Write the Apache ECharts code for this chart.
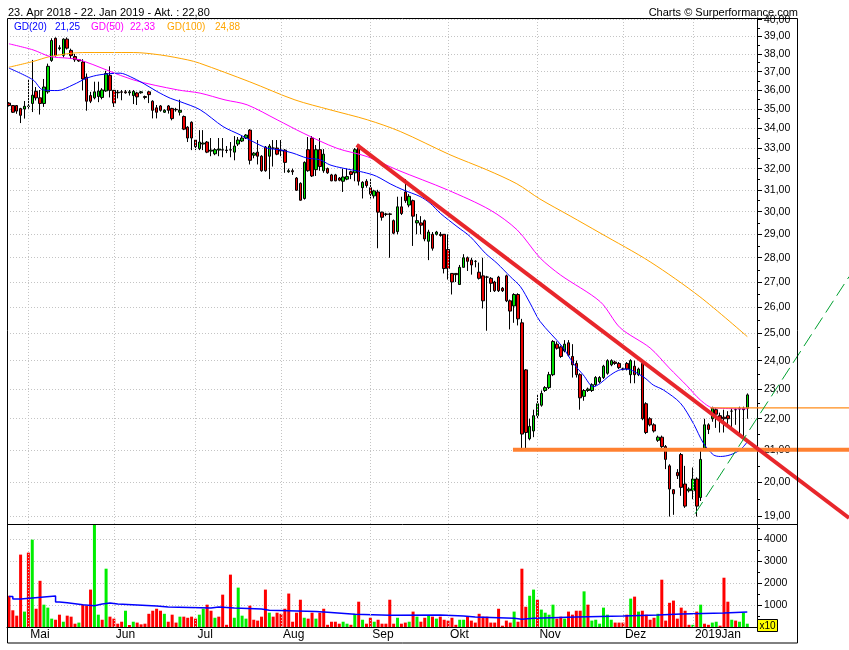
<!DOCTYPE html>
<html><head><meta charset="utf-8">
<script src="https://cdn.jsdelivr.net/npm/echarts@6/dist/echarts.min.js"></script>
<style>html,body{margin:0;padding:0;background:#fff}#c{width:849px;height:650px}</style>
</head><body><div id="c"></div>
<script>
// ---------- DATA ----------
const titleText = '23. Apr 2018 - 22. Jan 2019 - Akt. : 22,80';
const creditText = 'Charts \u00A9 Surperformance.com';
const startDate = '2018-04-24', endDate = '2019-01-22';
const closedDays = ['2018-05-01','2018-12-24','2018-12-25','2018-12-26','2019-01-01'];
const padDays = ['2019-01-23','2019-01-24'];
const monthLabels = ['Mai','Jun','Jul','Aug','Sep','Okt','Nov','Dez','2019Jan'];
const monthStarts = [5,27,48,70,93,113,136,158,176];
const priceTicks = [19,20,21,22,23,24,25,26,27,28,29,30,31,32,33,34,35,36,37,38,39,40];
const volTicks = [1000,2000,3000,4000];
const volMinorTicks = [500,1500,2500,3500,4500];

const openP = [35.30,35.17,35.17,35.01,34.99,35.12,35.28,35.93,35.58,35.28,
35.90,37.63,38.90,38.30,37.92,38.85,38.20,37.85,37.67,37.54,
36.70,35.70,35.58,35.65,35.60,35.95,36.80,35.98,35.85,35.90,
35.90,35.85,35.70,35.84,35.85,35.65,35.90,35.40,35.05,35.15,
34.82,35.15,35.02,34.97,34.82,34.60,34.05,34.30,33.40,32.97,
33.20,33.30,32.85,32.72,32.90,32.90,32.90,32.92,32.80,33.20,
33.35,33.50,33.90,32.65,32.80,32.60,33.05,32.60,33.00,33.00,
32.90,32.90,31.85,31.90,31.55,31.30,30.60,32.92,33.50,31.95,
32.92,31.90,32.00,31.70,31.70,31.55,31.40,31.50,31.85,31.80,
33.15,31.10,31.40,31.10,30.72,30.90,29.98,29.90,29.90,29.60,
29.12,30.22,30.90,30.30,30.50,29.50,29.50,29.60,28.70,29.00,
29.00,29.00,29.00,28.35,27.35,27.35,26.90,27.60,28.00,27.90,
27.85,27.40,27.25,27.20,27.15,27.00,27.20,26.75,27.25,26.25,
26.05,26.50,25.40,23.67,21.35,21.60,22.10,22.45,22.95,23.05,
23.50,24.60,24.50,24.35,24.65,24.15,23.90,23.50,22.75,22.95,
22.95,23.15,23.25,23.40,23.55,23.85,23.95,23.90,23.70,23.90,
23.50,23.80,23.50,23.90,22.50,22.00,21.80,21.30,21.40,21.10,
20.50,19.78,20.30,20.85,19.95,19.75,19.75,20.10,19.55,21.05,
21.80,22.00,22.30,22.10,22.05,22.10,22.25,22.30,22.35,22.35,
22.35];
const closeP = [35.17,34.82,34.88,34.66,35.13,35.15,35.72,35.58,35.28,36.16,
37.30,38.77,37.90,38.35,38.85,38.33,37.90,37.67,37.60,36.60,
35.40,35.40,35.90,35.94,36.00,36.90,35.98,35.30,35.88,35.88,
35.85,35.90,35.93,35.63,35.90,35.60,35.75,34.92,34.82,34.92,
34.92,34.92,34.49,34.95,34.92,33.95,33.50,33.50,33.07,33.30,
33.25,32.80,32.90,32.92,32.95,32.92,32.88,32.90,33.10,33.40,
33.50,33.65,32.40,32.75,32.60,31.90,31.90,33.10,33.00,32.70,
32.85,32.30,31.90,31.85,30.98,30.52,32.30,31.90,31.65,32.92,
32.10,32.70,31.80,31.42,31.42,31.45,31.60,31.62,31.72,32.92,
31.40,31.35,31.20,30.80,30.95,29.98,29.75,29.88,29.88,29.05,
30.22,29.92,30.50,30.70,29.80,29.60,29.40,28.80,29.10,28.40,
29.10,28.95,27.55,27.55,27.00,27.30,27.60,28.00,27.85,27.70,
27.85,27.15,26.25,27.20,26.95,26.65,26.65,26.65,26.25,25.85,
26.50,25.55,21.50,21.55,21.75,22.10,22.50,22.85,23.05,23.50,
24.70,24.45,24.15,24.60,24.20,23.85,23.50,22.70,22.95,23.00,
23.15,23.40,23.40,23.80,24.00,24.00,23.90,23.75,23.70,23.70,
24.00,23.50,23.70,22.00,21.55,21.80,21.60,21.40,21.10,20.70,
19.80,19.66,20.20,19.85,19.30,19.80,20.10,19.30,20.70,21.80,
21.65,22.35,22.15,22.00,22.00,22.00,22.25,22.30,22.32,22.30,
22.80];
const lowP = [35.12,34.78,34.74,34.26,34.49,35.00,34.83,35.44,34.70,35.10,
35.80,37.55,37.85,38.20,37.80,38.25,37.72,37.55,37.55,35.98,
34.90,35.30,35.50,35.35,35.50,35.90,35.60,35.10,35.55,35.45,
35.80,35.70,35.25,35.20,35.80,35.50,35.30,34.50,34.50,34.85,
34.78,34.75,34.40,34.85,34.65,33.90,33.30,32.90,32.90,32.90,
32.90,32.75,32.60,32.65,32.60,32.55,32.75,32.55,32.40,33.10,
33.30,33.45,32.20,32.50,32.20,31.85,31.85,31.50,32.10,32.65,
32.60,31.80,31.80,31.70,30.95,30.50,30.55,31.85,31.60,31.65,
31.90,31.80,31.75,31.40,31.40,31.40,30.90,31.45,31.50,31.40,
31.20,30.60,31.10,30.60,30.60,28.40,29.60,29.80,28.00,29.00,
29.00,29.85,30.40,30.20,28.50,29.00,29.00,28.70,27.90,28.30,
28.95,28.90,27.35,27.10,26.50,27.00,26.90,27.60,27.45,27.30,
27.60,27.10,25.95,25.10,26.60,26.60,26.60,26.60,26.20,25.15,
25.40,25.30,21.05,21.00,21.30,21.40,22.00,22.40,22.90,23.00,
23.45,24.40,24.10,24.30,24.15,23.40,23.40,22.30,22.60,22.90,
22.90,23.10,23.20,23.35,23.50,23.80,23.85,23.70,23.65,23.65,
23.20,23.20,23.45,21.95,21.50,21.75,21.55,21.25,21.00,20.40,
19.00,19.05,20.10,19.60,19.25,19.70,19.50,19.00,19.45,21.00,
21.50,21.90,21.70,21.55,21.55,21.75,21.70,21.80,21.50,21.40,
22.00];
const highP = [35.35,35.20,35.20,35.05,35.41,36.60,37.66,36.16,36.00,36.60,
37.45,38.90,38.95,38.50,38.90,38.95,38.30,38.00,37.70,37.70,
36.90,35.90,36.45,36.45,36.10,37.05,37.30,36.00,36.00,36.00,
36.00,36.00,36.00,35.90,35.95,35.70,35.95,35.45,35.20,35.20,
34.98,35.20,35.05,35.05,35.48,34.65,34.10,34.35,33.45,33.90,
33.90,33.35,33.50,33.00,33.50,33.50,33.10,33.30,33.60,33.55,
33.60,33.70,33.95,32.80,33.40,32.65,33.10,33.20,33.40,33.40,
33.40,32.95,32.00,32.00,31.60,31.35,32.35,33.55,33.60,33.15,
33.50,32.95,32.05,31.75,31.75,31.60,32.00,32.00,31.90,33.00,
33.20,31.40,31.50,31.50,31.00,31.00,30.00,29.95,29.95,29.65,
30.68,30.68,31.50,30.80,30.55,29.90,29.80,29.65,29.20,29.10,
29.15,29.10,29.00,29.00,27.35,27.35,27.70,28.15,28.05,28.00,
27.90,27.80,28.00,27.25,27.20,27.05,27.25,26.80,27.30,26.30,
26.55,26.55,25.55,23.70,22.00,22.30,22.80,22.95,23.10,23.60,
24.75,24.70,24.55,24.75,24.75,24.60,24.00,23.55,23.00,23.05,
23.20,23.45,23.45,23.85,24.05,24.05,24.00,23.95,23.75,23.95,
24.05,24.00,23.75,23.95,22.55,22.05,21.85,21.45,21.45,21.15,
20.55,19.80,20.40,20.90,20.50,19.85,20.45,20.15,21.00,22.00,
21.85,22.40,22.35,22.20,22.30,22.25,22.35,22.35,22.40,22.40,
22.85];

const volume = [1420,760,515,3290,700,3380,3970,830,2100,1015,
880,380,330,560,240,515,470,150,200,1015,
970,1700,4700,560,330,2650,470,380,150,240,
740,90,240,200,120,150,600,740,830,740,
600,240,560,200,470,470,420,470,380,560,
830,1015,740,420,470,1470,100,2380,420,1790,
515,380,970,330,290,470,1700,650,470,650,
600,830,1520,240,650,1240,420,380,650,380,
650,830,100,240,240,150,240,150,100,600,
1150,330,150,420,240,330,150,150,1240,150,
420,150,200,240,700,470,240,420,515,470,
380,470,330,290,420,100,330,330,470,290,
200,600,470,470,200,200,830,60,290,200,
700,240,2650,920,1420,1700,1240,790,650,560,
1015,380,470,380,700,560,740,740,1620,1015,
290,330,150,880,560,330,200,200,200,560,
1290,1380,700,740,560,330,420,600,2150,290,
1100,1200,380,880,740,100,100,700,1015,150,
100,200,240,60,2240,1150,330,290,240,650,
150];
const volDir = 'rrrrgrgrrg'+'ggrrgrrrgr'+'rrggrgrrrr'+'grgrrrrrrr'+'grrrgrrrrg'+
  'grrgrrrrgg'+'ggrrrrrgrr'+'rrrrrrgrrg'+'rrrrrrggrg'+'rgrrgrrrrr'+
  'grrgrgrrgr'+'grrrrrggrr'+'rrrrrrrrrr'+'grrrggrggg'+'grrgrrrrgr'+
  'ggggggrrrr'+'grgrrrrgrr'+'rrrrrrgrgr'+'rggrrrgrggg';
const volMA = [[0,1390],[1,1270],[3,1320],[6,1410],[12,1140],[13,1100],[15,1060],[17,1015],[19,970],
  [22,1045],[24,1090],[26,1045],[28,1000],[33,955],[38,910],[41,865],[52,910],[54,865],[58,820],
  [65,760],[67,700],[79,665],[82,575],[89,530],[98,545],[111,500],[117,455],[120,395],[130,350],
  [132,395],[135,455],[146,500],[158,545],[167,590],[173,635],[184,680],[190,680]];

// moving averages: [day index, price]
const gd20 = [[0,37.20],[6.2,36.55],[8.7,36.01],[12.6,35.97],[16.5,36.28],[20.1,36.65],[23.4,36.83],
  [28.6,36.92],[31.2,36.73],[34.5,36.37],[38.1,35.92],[41.5,35.56],[44,35.38],[49.2,34.95],
  [55.1,34.08],[59.5,33.66],[62.8,33.32],[66.4,33.00],[69.8,32.91],[73.1,32.75],[76.7,32.51],
  [80,32.43],[82.6,32.18],[86,32.02],[90.4,31.86],[93.7,31.70],[95.5,31.55],[98.1,31.28],
  [101.4,31.00],[105.8,30.69],[108.4,30.38],[111,29.93],[115.3,29.34],[118.7,28.90],[122.6,28.19],
  [125.6,27.77],[129,27.22],[131.6,26.82],[134.1,26.16],[136.7,25.45],[142.4,24.51],[145.2,23.91],
  [147.8,23.49],[150.4,23.08],[152.2,23.20],[154.2,23.43],[156.8,23.65],[159.1,23.70],[161.7,23.55],
  [163.7,23.38],[165.8,23.14],[168.4,22.97],[172.8,22.52],[176.1,21.85],[178.7,21.21],[181.3,20.84],
  [183.1,20.79],[185.6,20.84],[188.2,21.00],[190,21.25]];
const gd50 = [[0,38.58],[6.2,38.23],[10.6,37.85],[15,37.76],[18.3,37.66],[32,36.55],[43.3,36.01],
  [49.2,35.83],[55.6,35.47],[61.3,35.21],[69,34.43],[75.7,33.75],[84.4,32.99],[92.2,32.58],
  [99.9,31.94],[112.8,31.00],[123.8,30.08],[130.8,29.19],[136.7,27.99],[141.9,27.29],[152.2,26.21],
  [157.3,25.21],[165,24.46],[169.9,23.74],[174.5,23.11],[177.9,22.63],[181.2,22.36],[190,22.33]];
const gd100 = [[0,37.25],[6.2,37.57],[10.6,37.85],[19,38.08],[32,38.08],[39,37.94],[46,37.66],
  [49,37.48],[62,36.44],[73.6,35.47],[82.6,34.95],[92.2,34.43],[100.7,33.83],[113.5,32.67],
  [123,31.94],[130.7,31.28],[136.6,30.58],[144.4,29.81],[152.1,29.06],[165,27.83],[177.8,26.41],
  [190,24.88]];
const legendItems = [['GD(20)','21,25','#0000ff'],['GD(50)','22,33','#ff00ff'],['GD(100)','24,88','#ffa500']];

// drawn trend lines: [day index, price]
const redTrend = [[89.5,33.16],[216.2,18.96]];
const supportLine = [[129.7,21.00],[216.2,21.00]];
const resistLine = [[180.4,22.36],[216.2,22.36]];
const greenTrend = [[176.55,19.08],[216.2,27.22]];

// ---------- BUILD ----------
function buildDays(){
  const out = [];
  const d = new Date(startDate + 'T00:00:00Z');
  const end = new Date(endDate + 'T00:00:00Z');
  while (d <= end){
    const s = d.toISOString().slice(0,10);
    const wd = d.getUTCDay();
    if (wd !== 0 && wd !== 6 && closedDays.indexOf(s) < 0) out.push(s);
    d.setUTCDate(d.getUTCDate()+1);
  }
  return out.concat(padDays);
}
const cats = buildDays();
const LN = Math.log;
const PMIN = LN(18.79), PMAX = LN(40.1);
const VMAX = 4636;
const FONT = 'Liberation Sans';
const GL = 7, GR_AXIS = 757, W = 849;
const band = (GR_AXIS - GL) / cats.length;
const overlayMax = -0.5 + (W - GL) / band;

const candles = openP.map((o,i)=>[LN(o), LN(closeP[i]), LN(lowP[i]), LN(highP[i])]);
const volData = volume.map((v,i)=>({value:v, itemStyle:{color: volDir[i]==='g' ? '#00ee00' : '#ff0000'}}));
const lnPts = arr => arr.map(p=>[p[0], LN(p[1])]);
const gridLineStyle = {color:'#c4c4c4', type:[1,2], width:1};
const monthMarks = monthStarts.map(i=>({xAxis: cats[i]}));
const labelByIdx = {}; monthStarts.forEach((i,k)=>labelByIdx[i]=monthLabels[k]);

const chart = echarts.init(document.getElementById('c'));
chart.setOption({
  animation:false,
  backgroundColor:'#fff',
  textStyle:{fontFamily:FONT},
  grid:[
    {left:GL, top:18, right:W-GR_AXIS, bottom:650-524, show:false},
    {left:GL, top:525, right:W-GR_AXIS, bottom:650-627, show:false},
    {left:GL, top:18, right:0, bottom:650-524, show:false}
  ],
  xAxis:[
    {type:'category', gridIndex:0, data:cats, boundaryGap:true,
     axisLine:{show:false}, axisTick:{show:false}, axisLabel:{show:false}, splitLine:{show:false}},
    {type:'category', gridIndex:1, data:cats, boundaryGap:true,
     axisLine:{show:true, lineStyle:{color:'#000'}}, axisTick:{show:false}, splitLine:{show:false},
     axisLabel:{show:true, interval:(idx)=>labelByIdx[idx]!==undefined, formatter:(v,idx)=>labelByIdx[idx]||'',
       align:'left', padding:[0,0,0,2], margin:2, fontSize:12, color:'#000', fontFamily:FONT}},
    {type:'value', gridIndex:2, min:-0.5, max:overlayMax, show:false}
  ],
  yAxis:[
    {type:'value', gridIndex:0, position:'right', min:PMIN, max:PMAX,
     axisLine:{show:true, lineStyle:{color:'#000'}},
     axisTick:{show:true, length:5, customValues:priceTicks.map(LN), lineStyle:{color:'#000'}},
     axisLabel:{show:true, customValues:priceTicks.map(LN), formatter:v=>Math.round(Math.exp(v))+',00',
       color:'#000', fontSize:10.5, fontFamily:FONT, margin:7},
     splitLine:{show:true, lineStyle:gridLineStyle}},
    {type:'value', gridIndex:0, position:'right', min:PMIN, max:PMAX,
     axisLine:{show:false}, axisLabel:{show:false}, splitLine:{show:false},
     axisTick:{show:true, length:3, customValues:priceTicks.slice(0,-1).map(p=>LN(p+0.5)), lineStyle:{color:'#000'}}},
    {type:'value', gridIndex:1, position:'right', min:0, max:VMAX,
     axisLine:{show:true, lineStyle:{color:'#000'}},
     axisTick:{show:true, length:5, customValues:volTicks, lineStyle:{color:'#000'}},
     axisLabel:{show:true, customValues:volTicks, formatter:v=>String(Math.round(v)), color:'#000', fontSize:10.5, fontFamily:FONT, margin:7},
     splitLine:{show:true, lineStyle:gridLineStyle}},
    {type:'value', gridIndex:1, position:'right', min:0, max:VMAX,
     axisLine:{show:false}, axisLabel:{show:false}, splitLine:{show:false},
     axisTick:{show:true, length:3, customValues:volMinorTicks, lineStyle:{color:'#000'}}},
    {type:'value', gridIndex:2, min:PMIN, max:PMAX, show:false}
  ],
  series:[
    {type:'line', xAxisIndex:0, yAxisIndex:0, data:[], z:1, silent:true,
     markLine:{silent:true, symbol:'none', label:{show:false}, lineStyle:gridLineStyle, data:monthMarks, animation:false}},
    {type:'line', xAxisIndex:1, yAxisIndex:2, data:[], z:1, silent:true,
     markLine:{silent:true, symbol:'none', label:{show:false}, lineStyle:gridLineStyle, data:monthMarks, animation:false}},
    {type:'candlestick', xAxisIndex:0, yAxisIndex:0, data:candles, barWidth:3, z:3,
     itemStyle:{color:'#00dd00', color0:'#ee0000', borderColor:'#000', borderColor0:'#000', borderWidth:1}},
    {type:'bar', xAxisIndex:1, yAxisIndex:2, data:volData, barWidth:3, z:3},
    {type:'line', xAxisIndex:1, yAxisIndex:2, data:volMA, step:'end', symbol:'none', z:4,
     lineStyle:{color:'#0000ff', width:1.5}},
    {type:'line', xAxisIndex:2, yAxisIndex:4, data:lnPts(gd100), smooth:0.3, symbol:'none', z:4,
     lineStyle:{color:'#ffa500', width:1}},
    {type:'line', xAxisIndex:2, yAxisIndex:4, data:lnPts(gd50), smooth:0.3, symbol:'none', z:4,
     lineStyle:{color:'#ff00ff', width:1}},
    {type:'line', xAxisIndex:2, yAxisIndex:4, data:lnPts(gd20), smooth:0.3, symbol:'none', z:4,
     lineStyle:{color:'#0000ff', width:1}},
    {type:'line', xAxisIndex:2, yAxisIndex:4, data:lnPts(supportLine), symbol:'none', z:5,
     lineStyle:{color:'#ff8030', width:4}},
    {type:'line', xAxisIndex:2, yAxisIndex:4, data:lnPts(resistLine), symbol:'none', z:5,
     lineStyle:{color:'#ff8c1a', width:1.2}},
    {type:'line', xAxisIndex:2, yAxisIndex:4, data:lnPts(redTrend), symbol:'none', z:6,
     lineStyle:{color:'#e8262b', width:4}},
    {type:'line', xAxisIndex:2, yAxisIndex:4, data:lnPts(greenTrend), symbol:'none', z:6,
     lineStyle:{color:'#00a030', width:1, type:[14,6]}}
  ],
  graphic:[
    {type:'rect', shape:{x:7.5, y:18.5, width:790, height:624.5}, style:{fill:'none', stroke:'#000', lineWidth:1}, z:10, silent:true},
    {type:'line', shape:{x1:7, y1:524.5, x2:798, y2:524.5}, style:{stroke:'#000', lineWidth:1}, z:10, silent:true},
    {type:'text', x:8, y:13, style:{text:titleText, fontSize:11, fontFamily:FONT, fill:'#000', verticalAlign:'middle'}},
    {type:'text', x:798, y:13, style:{text:creditText, fontSize:11, fontFamily:FONT, fill:'#000', align:'right', verticalAlign:'middle'}},
    {type:'text', x:14, y:27, style:{text:legendItems[0][0], fontSize:10, fontFamily:FONT, fill:legendItems[0][2], verticalAlign:'middle'}, z:20},
    {type:'text', x:55, y:27, style:{text:legendItems[0][1], fontSize:10, fontFamily:FONT, fill:legendItems[0][2], verticalAlign:'middle'}, z:20},
    {type:'text', x:91, y:27, style:{text:legendItems[1][0], fontSize:10, fontFamily:FONT, fill:legendItems[1][2], verticalAlign:'middle'}, z:20},
    {type:'text', x:130, y:27, style:{text:legendItems[1][1], fontSize:10, fontFamily:FONT, fill:legendItems[1][2], verticalAlign:'middle'}, z:20},
    {type:'text', x:167, y:27, style:{text:legendItems[2][0], fontSize:10, fontFamily:FONT, fill:legendItems[2][2], verticalAlign:'middle'}, z:20},
    {type:'text', x:215, y:27, style:{text:legendItems[2][1], fontSize:10, fontFamily:FONT, fill:legendItems[2][2], verticalAlign:'middle'}, z:20},
    {type:'rect', shape:{x:757.5, y:619.5, width:20, height:12}, style:{fill:'#ffff00', stroke:'#000', lineWidth:1}, z:20},
    {type:'text', x:767.5, y:626, style:{text:'x10', fontSize:10, fontFamily:FONT, fill:'#000', align:'center', verticalAlign:'middle'}, z:21}
  ]
});
</script></body></html>
